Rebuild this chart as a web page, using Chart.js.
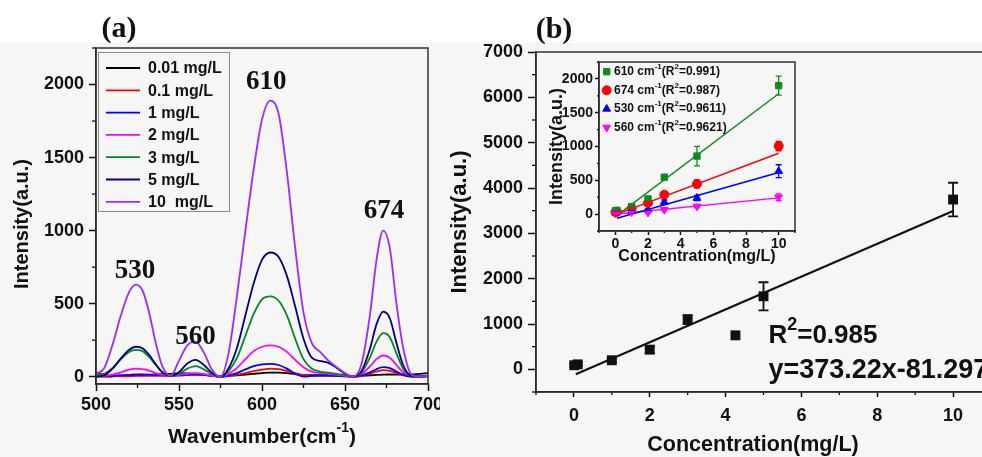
<!DOCTYPE html>
<html>
<head>
<meta charset="utf-8">
<script src="https://cdn.jsdelivr.net/npm/chart.js@4.4.1/dist/chart.umd.min.js"></script>
<style>
html, body { margin: 0; padding: 0; background: #fff; }
#wrap { position: relative; width: 982px; height: 457px; overflow: hidden;
        background: linear-gradient(#fff 0, #fff 43px, #f6f6f6 43px); }
canvas { position: absolute; }
#chartA { left: 0; top: 0; }
#chartB { left: 440px; top: 0; }
#inset { left: 540px; top: 40px; }
</style>
</head>
<body>
<div id="wrap">
  <canvas id="chartA" width="440" height="457"></canvas>
  <canvas id="chartB" width="552" height="457"></canvas>
  <canvas id="inset" width="262" height="230"></canvas>
</div>
<script>
const SANS = "'Liberation Sans', Arial, sans-serif";
const SERIF = "'Liberation Serif', 'Times New Roman', serif";

// ---------- panel (a): SERS spectra ----------
const wavenumber = [500, 505, 510, 515, 520, 524, 528, 532, 536, 540, 545, 550, 555, 560, 565, 570, 575,
  580, 585, 590, 595, 600, 605, 610, 615, 620, 625, 630, 635, 640, 645, 650, 655,
  660, 665, 669, 673, 677, 681, 685, 690, 695, 700];
const concLabels = ['0.01 mg/L', '0.1 mg/L', '1 mg/L', '2 mg/L', '3 mg/L', '5 mg/L', '10  mg/L'];
const concColors = ['#000000', '#ff0000', '#0000ff', '#ff00ff', '#008a1e', '#000080', '#9a2cff'];

const spec001 = [10, 0, 2, 5, 8, 10, 11, 13, 15, 17, 20, 22, 22, 20, 15, 8, 0,
  5, 10, 15, 20, 25, 28, 28, 25, 18, 12, 10, 10, 10, 8, 5, 0,
  5, 10, 12, 14, 15, 15, 15, 15, 20, 25];
const spec01 = [30, 15, 5, 3, 3, 5, 5, 5, 6, 8, 10, 12, 15, 15, 12, 8, 0,
  5, 15, 25, 38, 48, 55, 52, 40, 25, 12, 8, 8, 6, 5, 3, 0,
  8, 22, 36, 45, 40, 25, 10, 0, 0, 3];
const spec1 = [0, 5, 8, 10, 12, 15, 15, 14, 11, 8, 5, 8, 12, 15, 12, 5, 0,
  10, 25, 50, 72, 85, 88, 80, 55, 20, 0, 5, 8, 8, 5, 3, 0,
  10, 30, 52, 65, 58, 35, 12, 0, 2, 5];
const spec2 = [0, 5, 15, 30, 48, 55, 52, 42, 25, 12, 5, 12, 20, 25, 18, 6, 0,
  20, 60, 120, 175, 205, 215, 205, 170, 115, 65, 35, 25, 20, 12, 5, 0,
  20, 70, 120, 145, 130, 80, 30, 5, 0, 3];
const spec3 = [10, 20, 60, 120, 170, 183, 175, 135, 80, 30, 5, 20, 55, 72, 50, 15, 0,
  40, 130, 280, 430, 530, 550, 520, 420, 260, 120, 55, 35, 28, 20, 10, 0,
  30, 130, 240, 298, 270, 160, 55, 5, 0, 5];
const spec5 = [0, 10, 55, 125, 185, 205, 195, 150, 85, 30, 5, 30, 90, 115, 80, 25, 0,
  60, 200, 420, 640, 800, 850, 820, 690, 480, 260, 130, 108, 95, 60, 20, 0,
  40, 190, 360, 445, 400, 230, 80, 5, 0, 5];
const spec10 = [20, 60, 220, 420, 580, 630, 590, 440, 230, 70, 5, 110, 215, 240, 165, 45, 0,
  170, 560, 1000, 1420, 1760, 1890, 1800, 1400, 880, 440, 230, 170, 110, 65, 25, 0,
  90, 420, 800, 1000, 880, 500, 200, 15, 0, 5];
const spectra = [spec001, spec01, spec1, spec2, spec3, spec5, spec10];

const peakNames = ['530', '560', '610', '674'];
const peakX = [523.5, 560, 602.5, 673.5];
const peakY = [726, 274, 2020, 1137];

// ---------- panel (b): calibration ----------
const conc = [0.01, 0.1, 1, 2, 3, 5, 10];
const total = [90, 110, 200, 434, 1097, 1611, 3746];
const totalErr = [35, 35, 40, 70, 100, 310, 370];
const fitX = [0.05, 10];
const totalFit = [-110, 3495];
const fitNote = ['R^2=0.985', 'y=373.22x-81.297'];

// inset
const bandLabels = ['610 cm^-1(R^2=0.991)', '674 cm^-1(R^2=0.987)', '530 cm^-1(R^2=0.9611)', '560 cm^-1(R^2=0.9621)'];
const bandColors = ['#0c8c1c', '#ff0000', '#0000ff', '#ff00ff'];
const bandStyles = ['rect', 'circle', 'triangle', 'triangle'];
const bandRot = [0, 0, 0, 180];
const band610 = [50, 55, 110, 224, 546, 858, 1900];
const band674 = [30, 35, 80, 164, 288, 447, 1007];
const band530 = [20, 25, 45, 65, 179, 238, 635];
const band560 = [15, 20, 30, 25, 65, 115, 248];
const err610 = [20, 20, 20, 30, 30, 145, 140];
const err674 = [15, 15, 15, 20, 20, 60, 70];
const err530 = [10, 10, 10, 15, 30, 40, 95];
const err560 = [10, 10, 10, 10, 15, 20, 50];
const insetFitX = [0.1, 10];
const fit610 = [-20, 1780];
const fit674 = [0, 900];
const fit530 = [-60, 615];
const fit560 = [0, 240];
const bands = [band610, band674, band530, band560];
const bandErr = [err610, err674, err530, err560];
const bandFit = [fit610, fit674, fit530, fit560];

Chart.defaults.font.family = SANS;
Chart.defaults.color = '#111';
Chart.defaults.animation = false;
Chart.defaults.plugins.legend.display = false;
Chart.defaults.plugins.tooltip.enabled = false;

const xy = (xs, ys) => xs.map((x, i) => ({x: x, y: ys[i]}));
const isMajor = (v, step) => Math.abs(v % step) < 1e-6;

// text with ^superscripts, e.g. "R^2=0.985"
function richText(ctx, str, x, y, size, align) {
  const parts = str.split(/\^(-?\d+)/);
  const fonts = parts.map((p, i) => 'bold ' + (i % 2 ? Math.round(size * 0.68) : size) + 'px ' + SANS);
  let w = 0;
  parts.forEach((p, i) => { ctx.font = fonts[i]; w += ctx.measureText(p).width; });
  let cx = align === 'center' ? x - w / 2 : x;
  ctx.textAlign = 'left';
  ctx.textBaseline = 'middle';
  parts.forEach((p, i) => {
    ctx.font = fonts[i];
    ctx.fillText(p, cx, i % 2 ? y - size * 0.4 : y);
    cx += ctx.measureText(p).width;
  });
}

function axis(o) {
  const a = {
    type: 'linear', min: o.min, max: o.max,
    border: {color: '#111', width: 1.5},
    grid: {drawOnChartArea: false, tickLength: o.tl, tickWidth: 1.5,
      tickColor: c => (c.tick && isMajor(c.tick.value, o.major)) ? '#111' : 'rgba(0,0,0,0)'},
    ticks: {autoSkip: false, maxRotation: 0,
      padding: o.pad, color: '#111', font: {size: o.fs, weight: 'bold'},
      callback: v => isMajor(v, o.major) ? v : ''},
    // ticks on multiples of the step, whatever the axis ends are
    afterBuildTicks: s => {
      const t = [];
      for (let v = Math.ceil(o.min / o.step) * o.step; v <= o.max + 1e-9; v += o.step) t.push({value: v});
      s.ticks = t;
    },
    afterFit: s => {
      if (o.w) s.width = o.w;
      if (o.h) s.height = o.h;
      s.paddingLeft = s.paddingRight = s.paddingTop = s.paddingBottom = 0;
    }
  };
  if (o.title) {
    a.title = {display: true, text: o.title, color: '#111',
      font: {size: o.tfs, weight: 'bold', lineHeight: 1}, padding: o.tpad};
  }
  return a;
}

// short minor ticks + box frame
const minorTicks = {
  id: 'minorTicks',
  afterDraw(chart) {
    const ctx = chart.ctx;
    ctx.save();
    ctx.strokeStyle = '#111';
    ctx.lineWidth = 1.3;
    Object.values(chart.scales).forEach(s => {
      const len = Math.round(s.options.grid.tickLength * 0.55);
      s.ticks.forEach(t => {
        if (t.label !== '') return;
        const p = s.getPixelForValue(t.value);
        ctx.beginPath();
        if (s.isHorizontal()) { ctx.moveTo(p, s.top); ctx.lineTo(p, s.top + len); }
        else { ctx.moveTo(s.right, p); ctx.lineTo(s.right - len, p); }
        ctx.stroke();
      });
    });
    const ca = chart.chartArea;
    ctx.strokeStyle = '#333';
    ctx.lineWidth = 1.5;
    ctx.strokeRect(ca.left, ca.top, ca.right - ca.left, ca.bottom - ca.top);
    ctx.restore();
  }
};

const errorBars = {
  id: 'errorBars',
  afterDatasetsDraw(chart) {
    const {ctx, scales: {x, y}} = chart;
    chart.data.datasets.forEach(ds => {
      if (!ds.errors) return;
      ctx.save();
      ctx.strokeStyle = ds.borderColor;
      ctx.lineWidth = ds.errWidth;
      ds.data.forEach((pt, j) => {
        const px = x.getPixelForValue(pt.x);
        const top = y.getPixelForValue(pt.y + ds.errors[j]);
        const bot = y.getPixelForValue(pt.y - ds.errors[j]);
        const cap = ds.capWidth;
        ctx.beginPath();
        ctx.moveTo(px, top); ctx.lineTo(px, bot);
        ctx.moveTo(px - cap, top); ctx.lineTo(px + cap, top);
        ctx.moveTo(px - cap, bot); ctx.lineTo(px + cap, bot);
        ctx.stroke();
      });
      ctx.restore();
    });
  }
};

// ---------- chart (a) ----------
const extrasA = {
  id: 'extrasA',
  afterDraw(chart) {
    const {ctx, chartArea: ca, scales: {x, y}} = chart;
    ctx.save();
    // panel letter
    ctx.fillStyle = '#111';
    ctx.font = 'bold 30px ' + SERIF;
    ctx.textAlign = 'center';
    ctx.textBaseline = 'middle';
    ctx.fillText('(a)', 119, 29);
    // peak labels
    ctx.font = 'bold 27px ' + SERIF;
    peakNames.forEach((t, i) => ctx.fillText(t, x.getPixelForValue(peakX[i]), y.getPixelForValue(peakY[i])));
    // axis titles
    ctx.save();
    ctx.translate(22, 224);
    ctx.rotate(-Math.PI / 2);
    ctx.font = 'bold 20px ' + SANS;
    ctx.fillText('Intensity(a.u.)', 0, 0);
    ctx.restore();
    richText(ctx, 'Wavenumber(cm^-1)', (ca.left + ca.right) / 2, 437, 21, 'center');
    // legend
    const lx = ca.left + 2, ly = ca.top + 4;
    ctx.strokeStyle = '#8a8a8a';
    ctx.lineWidth = 1;
    ctx.strokeRect(lx + 0.5, ly + 0.5, 131, 159);
    chart.data.datasets.forEach((ds, i) => {
      const ry = ly + 16 + i * 22.3;
      ctx.strokeStyle = ds.borderColor;
      ctx.lineWidth = 1.8;
      ctx.beginPath(); ctx.moveTo(lx + 8, ry); ctx.lineTo(lx + 42, ry); ctx.stroke();
      ctx.fillStyle = '#111';
      ctx.font = 'bold 16px ' + SANS;
      ctx.textAlign = 'left';
      ctx.fillText(ds.label, lx + 50, ry + 1);
    });
    ctx.restore();
  }
};

new Chart(document.getElementById('chartA'), {
  type: 'line',
  data: {
    datasets: spectra.map((s, i) => ({
      label: concLabels[i],
      data: xy(wavenumber, s),
      borderColor: concColors[i],
      borderWidth: 1.8,
      pointRadius: 0,
      cubicInterpolationMode: 'monotone',
      order: spectra.length - i
    }))
  },
  options: {
    responsive: false,
    layout: {autoPadding: false, padding: {left: 0, top: 48, right: 12, bottom: 0}},
    scales: {
      x: axis({min: 500, max: 700, step: 25, major: 50, tl: 7, pad: 3, fs: 18, h: 73}),
      y: axis({min: -50, max: 2250, step: 250, major: 500, tl: 7, pad: 5, fs: 18, w: 96})
    }
  },
  plugins: [minorTicks, extrasA]
});

// ---------- chart (b) ----------
const extrasB = {
  id: 'extrasB',
  afterDraw(chart) {
    const {ctx, scales: {x, y}} = chart;
    ctx.save();
    ctx.fillStyle = '#111';
    ctx.font = 'bold 30px ' + SERIF;
    ctx.textAlign = 'center';
    ctx.textBaseline = 'middle';
    ctx.fillText('(b)', 114, 30);
    ctx.font = 'bold 21.5px ' + SANS;
    ctx.fillText('Concentration(mg/L)', 313, 445);
    Chart.helpers.drawPoint(ctx, {pointStyle: 'rect', rotation: 0, radius: 7, borderWidth: 0},
      x.getPixelForValue(4.26), y.getPixelForValue(750));
    richText(ctx, fitNote[0], x.getPixelForValue(5.13), y.getPixelForValue(750), 26, 'left');
    richText(ctx, fitNote[1], x.getPixelForValue(5.13), y.getPixelForValue(-20), 27, 'left');
    ctx.restore();
  }
};

new Chart(document.getElementById('chartB'), {
  type: 'scatter',
  data: {
    datasets: [
      {label: 'Intensity', data: xy(conc, total), pointStyle: 'rect', pointRadius: 7,
        backgroundColor: '#111', borderColor: '#111', borderWidth: 0,
        errors: totalErr, errWidth: 1.8, capWidth: 5},
      {label: 'Fit', data: xy(fitX, totalFit), showLine: true, pointRadius: 0,
        borderColor: '#111', borderWidth: 2.2}
    ]
  },
  options: {
    responsive: false,
    layout: {autoPadding: false, padding: {left: 0, top: 52, right: 1, bottom: 0}},
    scales: {
      x: axis({min: -1, max: 11, step: 1, major: 2, tl: 5, pad: 8, fs: 18, h: 65}),
      y: axis({min: -500, max: 7000, step: 500, major: 1000, tl: 8, pad: 5, fs: 18, w: 96,
        title: 'Intensity(a.u.)', tfs: 22, tpad: {top: 9, bottom: 0}})
    }
  },
  plugins: [minorTicks, errorBars, extrasB]
});

// ---------- inset ----------
const insetLegend = {
  id: 'insetLegend',
  afterDraw(chart) {
    const {ctx, chartArea: ca} = chart;
    ctx.save();
    bandLabels.forEach((t, i) => {
      const ry = ca.top + 9.7 + i * 18.6;
      ctx.fillStyle = bandColors[i];
      ctx.strokeStyle = bandColors[i];
      Chart.helpers.drawPoint(ctx, {pointStyle: bandStyles[i], rotation: bandRot[i], radius: 4.5, borderWidth: 1},
        ca.left + 7.7, ry);
      ctx.fillStyle = '#111';
      richText(ctx, t, ca.left + 15, ry, 12, 'left');
    });
    ctx.restore();
  }
};

const insetSets = [];
bands.forEach((b, i) => insetSets.push({
  label: bandLabels[i], data: xy(conc, b), pointStyle: bandStyles[i], rotation: bandRot[i],
  pointRadius: 4.5, backgroundColor: bandColors[i], borderColor: bandColors[i], borderWidth: 1,
  errors: bandErr[i], errWidth: 1.3, capWidth: 3
}));
bandFit.forEach((f, i) => insetSets.push({
  label: 'fit ' + i, data: xy(insetFitX, f), showLine: true, pointRadius: 0,
  borderColor: bandColors[i], borderWidth: 1.5
}));

new Chart(document.getElementById('inset'), {
  type: 'scatter',
  data: {datasets: insetSets},
  options: {
    responsive: false,
    layout: {autoPadding: false, padding: {left: 0, top: 22, right: 7, bottom: 0}},
    scales: {
      x: axis({min: -1, max: 11, step: 1, major: 2, tl: 4, pad: 1, fs: 14, h: 39,
        title: 'Concentration(mg/L)', tfs: 16, tpad: {top: 0, bottom: 5}}),
      y: axis({min: -250, max: 2250, step: 250, major: 500, tl: 4, pad: 2, fs: 14, w: 59,
        title: 'Intensity(a.u.)', tfs: 18, tpad: {top: 8, bottom: 0}})
    }
  },
  plugins: [minorTicks, errorBars, insetLegend]
});
</script>
</body>
</html>
